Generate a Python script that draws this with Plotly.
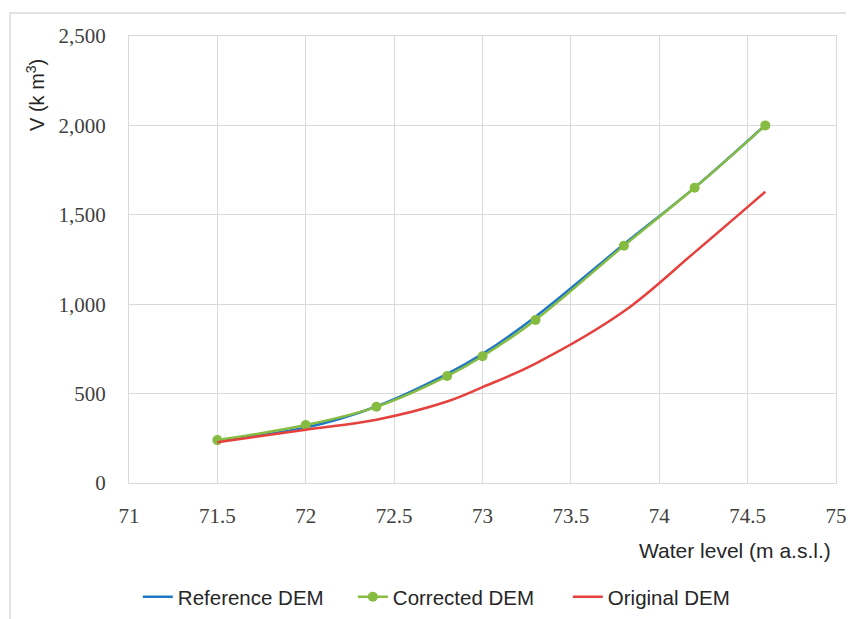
import plotly.graph_objects as go

levels = [71.5, 72.0, 72.4, 72.8, 73.0, 73.3, 73.8, 74.2, 74.6]
reference_dem = [235, 310, 428, 610, 722, 930, 1335, 1652, 2002]
corrected_dem = [240, 324, 426, 598, 709, 912, 1327, 1651, 2000]
original_dem = [228, 298, 354, 456, 536, 668, 960, 1290, 1629]

x_ticks = [71, 71.5, 72, 72.5, 73, 73.5, 74, 74.5, 75]
x_tick_labels = ["71", "71.5", "72", "72.5", "73", "73.5", "74", "74.5", "75"]
y_ticks = [0, 500, 1000, 1500, 2000, 2500]
y_tick_labels = ["0", "500", "1,000", "1,500", "2,000", "2,500"]

blue = "#1F78C6"
green = "#86BC42"
red = "#E5413D"
grid = "#D9D9D9"
serif = "Palatino Linotype, Book Antiqua, Liberation Serif, serif"
sans = "Liberation Sans, Arial, sans-serif"

fig = go.Figure()
fig.add_trace(go.Scatter(x=levels, y=reference_dem, name="Reference DEM", mode="lines",
                         line=dict(color=blue, width=2.5, shape="spline", smoothing=1)))
fig.add_trace(go.Scatter(x=levels, y=corrected_dem, name="Corrected DEM", mode="lines+markers",
                         line=dict(color=green, width=2.5, shape="spline", smoothing=1),
                         marker=dict(color=green, size=10)))
fig.add_trace(go.Scatter(x=levels, y=original_dem, name="Original DEM", mode="lines",
                         line=dict(color=red, width=2.5, shape="spline", smoothing=1)))

fig.update_xaxes(range=[71, 75], tickvals=x_ticks, ticktext=x_tick_labels,
                 showgrid=True, gridcolor=grid, gridwidth=1,
                 showline=True, mirror=True, linecolor=grid, linewidth=1,
                 zeroline=False, ticks="", ticklabelstandoff=14,
                 tickfont=dict(family=serif, size=21, color="#404040"))
fig.update_yaxes(range=[0, 2500], tickvals=y_ticks, ticktext=y_tick_labels,
                 showgrid=True, gridcolor=grid, gridwidth=1,
                 showline=True, mirror=True, linecolor=grid, linewidth=1,
                 zeroline=False, ticks="", ticklabelstandoff=18,
                 tickfont=dict(family=serif, size=21, color="#404040"))

fig.update_layout(
    width=846, height=611,
    margin=dict(l=121, r=18, t=28, b=136, autoexpand=False),
    paper_bgcolor="white", plot_bgcolor="white",
    showlegend=True,
    legend=dict(orientation="h", x=0.0125, xanchor="left", y=-0.255, yanchor="middle",
                font=dict(family=sans, size=20.5, color="#262626"),
                entrywidth=170, entrywidthmode="pixels",
                itemwidth=30, traceorder="normal"),
    annotations=[
        dict(text="V (k m<sup>3</sup>)", textangle=-90, xref="paper", yref="paper",
             x=-0.133, y=0.868, xanchor="center", yanchor="middle", showarrow=False,
             font=dict(family=sans, size=20, color="#262626")),
        dict(text="Water level (m a.s.l.)", xref="paper", yref="paper",
             x=0.857, y=-0.15, xanchor="center", yanchor="middle", showarrow=False,
             font=dict(family=sans, size=21, color="#262626")),
    ],
    shapes=[
        dict(type="rect", xref="paper", yref="paper",
             x0=-0.1683, y0=-0.33, x1=1.04, y1=1.0515,
             line=dict(color=grid, width=1.5), fillcolor="rgba(0,0,0,0)", layer="below"),
    ],
)

fig.write_html("out.html")
